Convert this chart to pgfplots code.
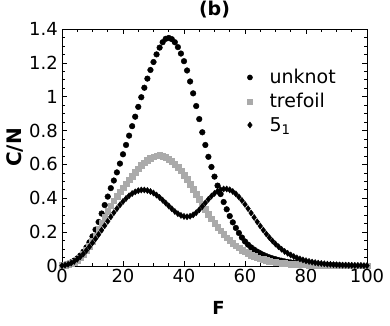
\documentclass[border=0pt]{standalone}
\usepackage{pgfplots}
\pgfplotsset{compat=1.18}
\usepackage{pgfplotstable}
\usepackage{fontspec}
\setmainfont{DejaVu Sans}
\definecolor{tgray}{RGB}{170,170,170}
\pgfplotstableread{
F U T D
0 0.004 0.003 0.002
1 0.008 0.006 0.005
2 0.014 0.010 0.010
3 0.022 0.016 0.017
4 0.032 0.024 0.027
5 0.045 0.036 0.040
6 0.062 0.050 0.055
7 0.084 0.068 0.072
8 0.110 0.092 0.092
9 0.140 0.118 0.114
10 0.175 0.147 0.137
11 0.215 0.180 0.161
12 0.260 0.216 0.186
13 0.310 0.254 0.212
14 0.360 0.290 0.238
15 0.410 0.325 0.264
16 0.460 0.357 0.290
17 0.505 0.386 0.315
18 0.553 0.413 0.339
19 0.605 0.438 0.361
20 0.660 0.463 0.381
21 0.715 0.487 0.399
22 0.770 0.510 0.415
23 0.826 0.532 0.428
24 0.882 0.554 0.438
25 0.940 0.575 0.445
26 0.997 0.594 0.449
27 1.053 0.610 0.449
28 1.107 0.625 0.446
29 1.158 0.637 0.440
30 1.205 0.646 0.431
31 1.250 0.652 0.419
32 1.290 0.653 0.405
33 1.322 0.649 0.389
34 1.342 0.642 0.372
35 1.347 0.632 0.355
36 1.340 0.619 0.338
37 1.322 0.603 0.322
38 1.293 0.584 0.309
39 1.255 0.562 0.299
40 1.210 0.538 0.293
41 1.155 0.512 0.291
42 1.090 0.484 0.294
43 1.020 0.454 0.302
44 0.945 0.424 0.315
45 0.868 0.394 0.332
46 0.790 0.364 0.352
47 0.715 0.335 0.373
48 0.645 0.307 0.394
49 0.585 0.280 0.413
50 0.528 0.254 0.429
51 0.475 0.230 0.442
52 0.425 0.208 0.451
53 0.378 0.187 0.455
54 0.335 0.168 0.455
55 0.295 0.151 0.450
56 0.258 0.135 0.440
57 0.225 0.120 0.426
58 0.195 0.107 0.408
59 0.168 0.095 0.387
60 0.145 0.084 0.364
61 0.126 0.074 0.339
62 0.110 0.065 0.313
63 0.097 0.057 0.287
64 0.085 0.050 0.261
65 0.075 0.044 0.236
66 0.066 0.039 0.212
67 0.058 0.034 0.189
68 0.051 0.030 0.168
69 0.045 0.026 0.148
70 0.040 0.023 0.130
71 0.035 0.020 0.114
72 0.031 0.018 0.099
73 0.027 0.016 0.086
74 0.024 0.014 0.075
75 0.021 0.012 0.065
76 0.019 0.011 0.056
77 0.017 0.010 0.048
78 0.015 0.009 0.042
79 0.013 0.008 0.036
80 0.012 0.007 0.031
81 0.011 0.006 0.027
82 0.010 0.005 0.023
83 0.009 0.005 0.020
84 0.008 0.004 0.017
85 0.007 0.004 0.015
86 0.006 0.003 0.013
87 0.006 0.003 0.011
88 0.005 0.003 0.010
89 0.005 0.002 0.008
90 0.004 0.002 0.007
91 0.004 0.002 0.006
92 0.003 0.002 0.005
93 0.003 0.002 0.005
94 0.003 0.001 0.004
95 0.002 0.001 0.004
96 0.002 0.001 0.003
97 0.002 0.001 0.003
98 0.002 0.001 0.003
99 0.001 0.001 0.002
100 0.001 0.001 0.002
}\data
\begin{document}
\begin{tikzpicture}
\begin{axis}[
  scale only axis,
  width=305pt, height=237pt,
  xmin=0, xmax=100, ymin=0, ymax=1.4,
  xtick={0,20,...,100},
  ytick={0,0.2,0.4,0.6,0.8,1,1.2,1.4},
  minor x tick num=3,
  minor y tick num=3,
  tick align=inside,
  xtick pos=both, ytick pos=both,
  xticklabel pos=bottom, yticklabel pos=left,
  major tick length=5pt,
  minor tick length=3pt,
  axis line style={line width=0.8pt},
  every tick/.style={line width=0.7pt, black},
  /pgf/number format/assume math mode=true,
  tick label style={font=\fontsize{18}{20}\selectfont},
  xticklabel style={inner sep=0pt, yshift=-3pt},
  yticklabel style={inner sep=0pt, xshift=-4pt},
  title={\textbf{(b)}},
  title style={font=\fontsize{19}{21}\selectfont, at={(axis description cs:0.5,1)}, anchor=south, inner sep=0pt, yshift=5pt},
  xlabel={\textbf{F}},
  ylabel={\textbf{C/N}},
  every axis x label/.style={at={(axis description cs:0.513,-0.148)}, anchor=north, inner sep=0pt, font=\fontsize{18}{20}\selectfont},
  every axis y label/.style={at={(axis description cs:-0.154,0.5)}, rotate=90, anchor=center, inner sep=0pt, font=\fontsize{20}{22}\selectfont},
  legend image code/.code={\draw[#1] plot coordinates {(0pt,0pt)};},
  legend cell align=left,
  legend style={draw=none, fill=none, at={(axis description cs:0.607,0.83)}, anchor=north west,
    font=\fontsize{19}{21}\selectfont, inner sep=0pt, row sep=8pt,
    nodes={inner sep=0pt},
    /tikz/every odd column/.append style={column sep=17pt}},
]
\addplot[only marks, mark=*, black, mark size=2.85pt, legend image post style={mark size=2.6pt}] table[x=F, y=U] {\data};
\addlegendentry{unknot}
\addplot[only marks, mark=square*, tgray, mark size=2.8pt, legend image post style={mark size=2.5pt}] table[x=F, y=T] {\data};
\addlegendentry{trefoil}
\addplot[only marks, mark=diamond*, black, mark size=3.1pt, legend image post style={mark size=3.1pt}] table[x=F, y=D] {\data};
\addlegendentry{5\textsubscript{1}}
\coordinate (bl) at (rel axis cs:0,0);
\coordinate (tr) at (rel axis cs:1,1);
\end{axis}
\pgfresetboundingbox
\path ([xshift=-62pt,yshift=-59pt]bl) rectangle ([xshift=23pt,yshift=29pt]tr);
\end{tikzpicture}
\end{document}
